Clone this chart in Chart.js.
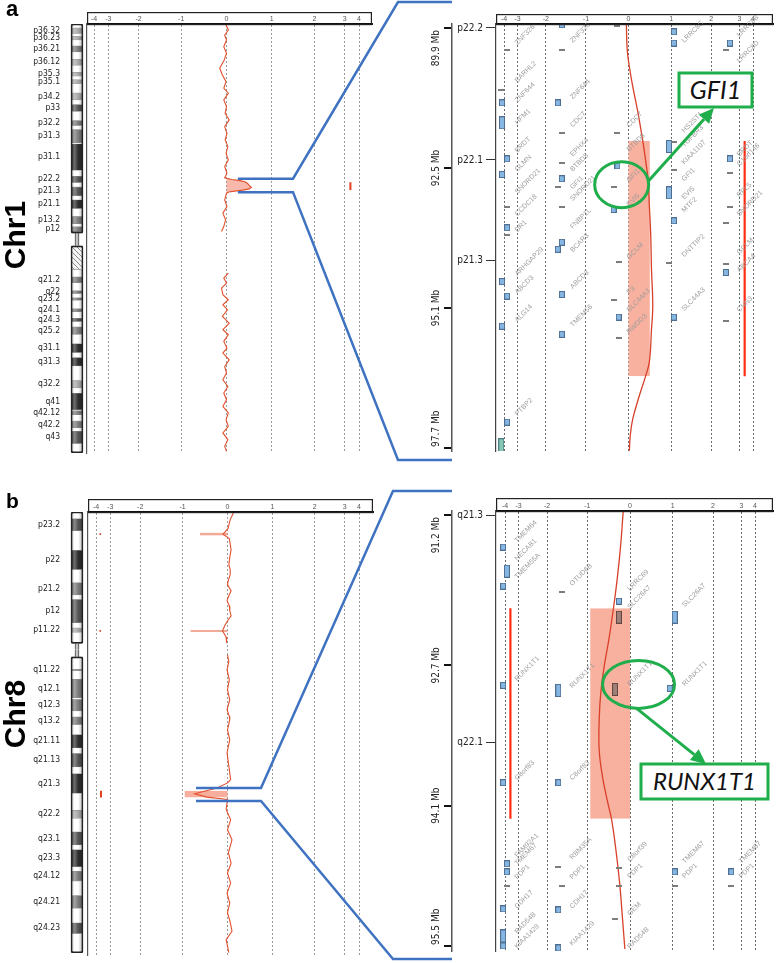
<!DOCTYPE html>
<html><head><meta charset="utf-8"><title>aCGH Chr1 / Chr8</title>
<script src="https://cdn.jsdelivr.net/npm/chart.js@4.4.1/dist/chart.umd.min.js"></script>
<style>
html,body{margin:0;padding:0;background:#fff}
#root{position:relative;width:778px;height:963px;overflow:hidden;background:#fff}
canvas{position:absolute}
#ov{position:absolute;left:0;top:0;pointer-events:none}
</style></head>
<body><div id="root">
<canvas id="idA" width="84" height="460" style="left:0;top:0"></canvas>
<canvas id="mainA" width="300" height="460" style="left:80px;top:0"></canvas>
<canvas id="zoomA" width="378" height="460" style="left:400px;top:0"></canvas>
<canvas id="idB" width="84" height="480" style="left:0;top:480px"></canvas>
<canvas id="mainB" width="300" height="480" style="left:80px;top:480px"></canvas>
<canvas id="zoomB" width="378" height="480" style="left:400px;top:480px"></canvas>
<svg id="ov" width="778" height="963"></svg>
</div>
<script>
// ===================== DATA =====================
const xTicks = [-4,-3,-2,-1,0,1,2,3,4];

// Chromosome 1 cytobands (Mb)
const chr1Length = 249.25;
const chr1BandName  = ['p36.33','p36.32','p36.31','p36.23','p36.22','p36.21','p36.13','p36.12','p36.11','p35.3','p35.2','p35.1','p34.3','p34.2','p34.1','p33','p32.3','p32.2','p32.1','p31.3','p31.2','p31.1','p22.3','p22.2','p22.1','p21.3','p21.2','p21.1','p13.3','p13.2','p13.1','p12','p11.2','p11.1','q11','q12','q21.1','q21.2','q21.3','q22','q23.1','q23.2','q23.3','q24.1','q24.2','q24.3','q25.1','q25.2','q25.3','q31.1','q31.2','q31.3','q32.1','q32.2','q32.3','q41','q42.11','q42.12','q42.13','q42.2','q42.3','q43','q44'];
const chr1BandStart = [0,2.3,5.4,7.2,9.2,12.7,16.2,20.4,23.9,28.0,30.2,32.4,34.6,40.1,44.1,46.8,50.7,56.1,59.0,61.3,68.9,69.7,84.9,88.4,92.0,94.7,99.7,102.2,107.2,111.8,116.1,117.8,120.7,121.5,125.0,128.9,142.6,147.0,150.3,155.0,156.5,159.1,160.5,165.5,167.2,170.9,172.9,176.0,180.3,185.8,190.8,193.8,198.7,207.2,211.5,214.5,224.1,224.6,227.0,230.7,234.7,236.6,243.7];
const chr1BandEnd   = [2.3,5.4,7.2,9.2,12.7,16.2,20.4,23.9,28.0,30.2,32.4,34.6,40.1,44.1,46.8,50.7,56.1,59.0,61.3,68.9,69.7,84.9,88.4,92.0,94.7,99.7,102.2,107.2,111.8,116.1,117.8,120.7,121.5,125.0,128.9,142.6,147.0,150.3,155.0,156.5,159.1,160.5,165.5,167.2,170.9,172.9,176.0,180.3,185.8,190.8,193.8,198.7,207.2,211.5,214.5,224.1,224.6,227.0,230.7,234.7,236.6,243.7,249.25];
const chr1BandStain = ['gneg','gpos25','gneg','gpos25','gneg','gpos50','gneg','gpos25','gneg','gpos25','gneg','gpos25','gneg','gpos25','gneg','gpos75','gneg','gpos50','gneg','gpos50','gneg','gpos100','gneg','gpos75','gneg','gpos75','gneg','gpos100','gneg','gpos50','gneg','gpos50','gneg','acen','acen','gvar','gneg','gpos50','gneg','gpos50','gneg','gpos50','gneg','gpos50','gneg','gpos75','gneg','gpos50','gneg','gpos100','gneg','gpos100','gneg','gpos25','gneg','gpos100','gneg','gpos50','gneg','gpos50','gneg','gpos75','gneg'];

// Chromosome 8 cytobands (Mb)
const chr8Length = 146.36;
const chr8BandName  = ['p23.3','p23.2','p23.1','p22','p21.3','p21.2','p21.1','p12','p11.23','p11.22','p11.21','p11.1','q11.1','q11.21','q11.22','q11.23','q12.1','q12.2','q12.3','q13.1','q13.2','q13.3','q21.11','q21.12','q21.13','q21.2','q21.3','q22.1','q22.2','q22.3','q23.1','q23.2','q23.3','q24.11','q24.12','q24.13','q24.21','q24.22','q24.23','q24.3'];
const chr8BandStart = [0,2.2,6.2,12.7,19.1,23.5,27.5,29.0,36.7,38.5,39.9,43.6,45.6,48.1,52.2,52.6,55.5,61.6,62.2,66.0,68.0,70.5,73.9,78.3,80.1,84.6,86.9,93.3,99.0,101.6,106.2,110.5,112.1,117.7,119.2,122.5,127.3,131.5,136.4,139.9];
const chr8BandEnd   = [2.2,6.2,12.7,19.1,23.5,27.5,29.0,36.7,38.5,39.9,43.6,45.6,48.1,52.2,52.6,55.5,61.6,62.2,66.0,68.0,70.5,73.9,78.3,80.1,84.6,86.9,93.3,99.0,101.6,106.2,110.5,112.1,117.7,119.2,122.5,127.3,131.5,136.4,139.9,146.36];
const chr8BandStain = ['gneg','gpos75','gneg','gpos100','gneg','gpos50','gneg','gpos75','gneg','gpos25','gneg','acen','acen','gneg','gpos75','gneg','gpos50','gneg','gpos50','gneg','gpos50','gneg','gpos100','gneg','gpos75','gneg','gpos100','gneg','gpos25','gneg','gpos75','gneg','gpos100','gneg','gpos50','gneg','gpos50','gneg','gpos75','gneg'];

// Panel a: chr1 log2 ratio profile
const chr1pPos  = [0.6,3.5,6.4,9.3,13.2,17,20.9,25.7,29.6,33.5,37.3,40.2,44.1,48,51.9,55.7,59.6,63.5,67.3,71.2,75.1,79,82.8,86.7,89.4,90.3,91.0,91.8,92.8,94.0,95.0,95.8,96.5,97.1,97.6,98.3,102.2,106.1,109.9,113.8,117.7,120.6];
const chr1pLog2 = [-0.01,0.04,-0.04,0,-0.06,0,-0.05,-0.15,-0.09,-0.01,-0.06,0.04,-0.06,0,-0.03,0.06,-0.04,0.01,-0.03,0.03,-0.01,0.04,-0.04,0.01,-0.04,0.12,0.30,0.42,0.47,0.51,0.55,0.50,0.36,0.18,0.05,0,-0.04,0.01,-0.08,-0.02,-0.06,-0.11];
const chr1qPos  = [144.7,147.6,150.5,153.5,157.3,160.2,163.1,166,169.9,173.8,177.6,180.5,184.4,188.3,191.2,195.1,199,202.8,206.7,210.6,214.4,218.3,222.2,226,229.9,233.8,237.6,241.5,245.4,248.3];
const chr1qLog2 = [0.04,-0.06,0,-0.11,-0.08,0.04,-0.08,0.02,-0.09,0.06,-0.08,0.04,-0.06,0.01,-0.08,0.06,-0.04,0,-0.08,0.03,-0.06,0,-0.08,0.04,-0.01,0.04,-0.08,0.03,-0.04,0];
const chr1GainPos = [92.0, 96.4];
const chr1GainLog2 = [0, 0.5];
const chr1CallLog2 = 3.4;

// Panel a zoom: 1p22.1 region
const zoom1Range = [89.826, 97.756];
const zoom1MbTicks = [89.9, 92.5, 95.1, 97.7];
const zoom1BandText = ['p22.2','p22.1','p21.3'];
const zoom1BandPos  = [89.9, 92.35, 94.22];
const zoom1Pos  = [89.84,90.31,90.62,90.99,91.42,91.97,92.35,92.72,93.21,93.7,94.38,95.07,95.5,96.1,96.37,96.74,97.16,97.48,97.75];
const zoom1Log2 = [-0.05,-0.03,0.02,0.1,0.21,0.33,0.4,0.46,0.49,0.52,0.54,0.57,0.54,0.49,0.4,0.25,0.1,0.04,0.02];
const zoom1Lanes = [-3.0,-1.33,0.02,1.33,3.0];
const zoom1GeneName = ['ZNF326','BARHL2','ZNF644','HFM1','BRDT','GLMN','SNORD21','CCDC18','DR1','ARHGAP29','ABCD3','ALG14','PTBP2',
  'ZNF326','ZNF644','CDC7','EPHX4','BTBD8','GFI1','SNORD21','FNBP1L','BCAR3','ABCD3','TMEM56',
  'CDC7','BTBD8','GFI1','EVI5','GCLM','F3','SLC44A3','RWDD3',
  'LRRC8C','HS2ST1','TGFBR3','KIAA1107','GFI1','EVI5','MTF2','DNTTIP2','SLC44A3',
  'LRRC8B','LRRC8D','BRDT','C1orf146','RPL5','SNORD21','GCLM','ABCA4','CNN3'];
const zoom1GeneLane = [0,0,0,0,0,0,0,0,0,0,0,0,0, 1,1,1,1,1,1,1,1,1,1,1, 2,2,2,2,2,2,2,2, 3,3,3,3,3,3,3,3,3, 4,4,4,4,4,4,4,4,4];
const zoom1GenePos  = [90.22,90.92,91.29,91.70,92.22,92.57,92.99,93.40,93.70,94.51,94.85,95.37,97.11,
  90.18,91.23,91.75,92.29,92.57,92.90,93.12,93.64,94.07,94.75,95.46,
  91.75,92.20,92.77,93.22,94.20,94.85,95.18,95.59,
  90.18,91.85,92.12,92.44,92.75,93.09,93.33,94.16,95.16,
  90.07,90.55,92.29,92.47,93.05,93.40,94.11,94.44,95.18];
const zoom1ProbeLog2 = [-1.6,1.07,1.07,2.66,-4.15,-1.7,-3.77,-0.26,2.66,-4.15,-1.6,-0.35,-3.77,1.07,-1.6,-1.7,2.52,-4.15,-3.77,-1.6,-0.23,1.07,-4.15,-1.6,-3.77];
const zoom1ProbePos  = [89.84,89.97,90.18,90.18,91.29,91.29,92.33,92.46,92.33,92.62,92.70,93.27,93.61,93.48,93.88,94.01,94.44,94.61,94.88,94.85,95.27,95.27,95.44,95.59,97.22];
const zoom1LongLog2 = [-4.15,0.95,0.95];
const zoom1LongPos  = [91.66,92.10,92.96];
const zoom1TealLog2 = [-4.2];
const zoom1TealPos  = [97.66];
const zoom1DashLog2 = [-0.26,-3.77,-1.6,2.52,-4.2,-1.6,-0.26,1.07,-1.6,1.07,2.66,-1.7,-0.35,-3.77,-1.6,2.66,2.52,-3.77,-0.23,0.95,2.52,-0.35,2.52,-0.23];
const zoom1DashPos  = [89.86,90.31,90.31,90.31,91.05,91.85,91.85,92.01,92.40,92.53,92.59,92.85,92.85,93.22,93.22,93.22,93.53,93.74,94.25,94.27,94.29,94.96,95.35,95.66];
const zoom1BoxLog2 = [0, 0.5];
const zoom1BoxPos  = [92.0, 96.37];
const zoom1CallLog2 = 3.38;

// Panel b: chr8 log2 ratio profile
const chr8pPos  = [0.3,2.5,5.5,7.3,8.8,10.5,12.5,15,17.4,19,20.7,22.5,24,26,28,29.3,31,32.6,34.3,36,37.5,39.3,41.3,43.3];
const chr8pLog2 = [0.13,0.06,0.01,-0.1,0.04,0.06,0.08,0.05,0.03,0.06,0.06,0.02,0,0.08,0.02,-0.01,0.04,0.05,0.08,0.0,-0.06,-0.11,-0.03,-0.02];
const chr8qPos  = [47.2,49.4,52.1,55.4,58.7,62,65.3,67.5,68.6,72,75.2,79.6,84,88.4,89.5,91.2,93.1,94.2,95,98.3,101.7,105,108.3,112.6,116,119.3,122.6,125.9,129.2,132.4,135.5,138.5,141.3,145.6];
const chr8qLog2 = [0,0.03,-0.01,0.04,0,0.05,-0.01,0.04,0.05,0,0.05,-0.01,0.03,0.07,0,-0.23,-0.73,-0.46,0,-0.03,0.07,0,0.1,0.02,0.08,0,0.07,-0.01,0.05,0,0.06,0.1,-0.03,0.03];
const chr8SpotPos  = [7.3, 39.3];
const chr8SpotLog2 = [-0.61, -0.82];
const chr8SpotCallLog2 = -3.7;
const chr8LossPos  = [92.1, 94.3];
const chr8LossLog2 = [-0.95, 0];
const chr8CallLog2 = -3.65;

// Panel b zoom: 8q21.3-q22.1 region
const zoom8Range = [91.16, 95.55];
const zoom8MbTicks = [91.2, 92.7, 94.1, 95.5];
const zoom8BandText = ['q21.3','q22.1'];
const zoom8BandPos  = [91.2, 93.47];
const zoom8Pos  = [91.17,91.51,91.84,92.14,92.43,92.7,92.96,93.23,93.55,93.82,94.05,94.24,94.54,94.88,95.2,95.53];
const zoom8Log2 = [-0.16,-0.22,-0.3,-0.39,-0.49,-0.6,-0.68,-0.72,-0.72,-0.64,-0.53,-0.43,-0.33,-0.24,-0.18,-0.12];
const zoom8Lanes = [-3.1,-1.37,0,1.3,3.0];
const zoom8GeneName = ['TMEM64','NECAB1','TMEM55A','RUNX1T1','C8orf83','FAM92A1','TMEM67','PDP1','CDH17','RAD54B','KIAA1429',
  'OTUD6B','RUNX1T1','C8orf83','RBM35A','PDP1','CDH17','KIAA1429',
  'LRRC69','SLC26A7','RUNX1T1','C8orf39','PDP1','GEM','RAD54B',
  'SLC26A7','RUNX1T1','TMEM67','PDP1',
  'TMEM67','PDP1'];
const zoom8GeneLane = [0,0,0,0,0,0,0,0,0,0,0, 1,1,1,1,1,1,1, 2,2,2,2,2,2,2, 3,3,3,3, 4,4];
const zoom8GenePos  = [91.48,91.66,91.84,92.86,93.85,94.62,94.70,94.84,95.13,95.38,95.53,
  91.91,92.93,93.85,94.64,94.84,95.13,95.50,
  91.96,92.14,92.91,94.66,94.83,95.20,95.53,
  92.12,92.91,94.68,94.83,
  94.68,94.83];
const zoom8ProbeLog2 = [-4.14,-4.14,-0.26,-4.14,0.93,-4.14,-1.72,-3.86,-3.86,1.05,2.64,-4.14,-1.72,-4.14,-1.72];
const zoom8ProbePos  = [91.52,91.91,92.06,92.90,92.93,93.87,93.87,94.68,94.76,94.76,94.76,95.13,95.14,95.50,95.52];
const zoom8LongLog2 = [-3.86,1.05,-1.72,-4.14];
const zoom8LongPos  = [91.76,92.22,92.95,95.40];
const zoom8LostLog2 = [-0.26,-0.35];
const zoom8LostPos  = [92.22,92.94];
const zoom8DashLog2 = [-1.62,-1.72,-0.26,-3.86,-1.62,-0.26,1.05,2.64,-0.35];
const zoom8DashPos  = [91.97,94.71,94.72,94.90,94.90,94.90,94.90,94.90,95.23];
const zoom8BoxLog2 = [-0.93, 0];
const zoom8BoxPos  = [92.13, 94.23];
const zoom8CallLog2 = -3.6;

// ===================== STYLE / HELPERS =====================
const FONT = '"Liberation Sans", Arial, sans-serif';
const NARROW = '"Liberation Sans Narrow", "Arial Narrow", "DejaVu Sans Condensed", sans-serif';
const TRACE = '#e2502c';
const WARP_V = [-4,-3,-2,-1,0,1,2,3,4];
const WARP_U = [0,0.054,0.168,0.329,0.5,0.671,0.832,0.946,1];

class WarpScale extends Chart.LinearScale {
  _pads(){ const o = this.options; const l = (o.warpPadL != null) ? o.warpPadL : 0; const r = (o.warpPadR != null) ? o.warpPadR : 0; return [this.left + l, this.right - r]; }
  getPixelForValue(v){
    const n = WARP_V.length; let i = 0;
    if (v >= WARP_V[n-1]) i = n-2; else { while (i < n-2 && v > WARP_V[i+1]) i++; }
    const t = (v - WARP_V[i]) / (WARP_V[i+1] - WARP_V[i]);
    const u = WARP_U[i] + t * (WARP_U[i+1] - WARP_U[i]);
    const [a, b] = this._pads();
    return a + u * (b - a);
  }
  getValueForPixel(p){
    const [a, b] = this._pads(); const u = (p - a) / (b - a);
    const n = WARP_U.length; let i = 0;
    if (u >= WARP_U[n-1]) i = n-2; else { while (i < n-2 && u > WARP_U[i+1]) i++; }
    return WARP_V[i] + (u - WARP_U[i]) / (WARP_U[i+1] - WARP_U[i]) * (WARP_V[i+1] - WARP_V[i]);
  }
}
WarpScale.id = 'warp';
WarpScale.defaults = Chart.LinearScale.defaults;
Chart.register(WarpScale);

const xy = (vals, pos) => pos.map((p, i) => ({x: vals[i], y: p}));

function shade(hex, f){
  const n = parseInt(hex.slice(1), 16);
  const c = [n >> 16 & 255, n >> 8 & 255, n & 255].map(v => Math.max(0, Math.min(255, Math.round(f > 1 ? v + (255 - v) * (f - 1) : v * f))));
  return 'rgb(' + c.join(',') + ')';
}
const STAIN = {gneg:'#ffffff', gpos25:'#a9a9a9', gpos50:'#7c7c7c', gpos75:'#555555', gpos100:'#2f2f2f', acen:'#bdbdbd'};
let hatchCache = null;
function hatch(ctx){
  if (hatchCache) return hatchCache;
  const p = document.createElement('canvas'); p.width = 5; p.height = 5;
  const g = p.getContext('2d'); g.fillStyle = '#f3f3f3'; g.fillRect(0,0,5,5);
  g.strokeStyle = '#8f8f8f'; g.lineWidth = 1; g.beginPath(); g.moveTo(-1,-1); g.lineTo(6,6); g.stroke();
  hatchCache = ctx.createPattern(p, 'repeat'); return hatchCache;
}
function bandFill(chart, stain){
  if (stain === 'gvar') return hatch(chart.ctx);
  const base = STAIN[stain] || '#ffffff';
  const area = chart.chartArea; if (!area) return base;
  const cx = (area.left + area.right) / 2;
  const g = chart.ctx.createLinearGradient(cx - 6, 0, cx + 6, 0);
  g.addColorStop(0, shade(base, 0.78)); g.addColorStop(0.3, shade(base, 1.3));
  g.addColorStop(0.6, base); g.addColorStop(1, shade(base, 0.7));
  return g;
}
function glyph(w, h, fill, stroke){
  const c = document.createElement('canvas'); c.width = w; c.height = h;
  const g = c.getContext('2d'); g.fillStyle = fill; g.fillRect(0,0,w,h);
  g.strokeStyle = stroke; g.lineWidth = 1; g.strokeRect(0.5,0.5,w-1,h-1); return c;
}
const G_BLUE = glyph(6, 7, '#86b6e2', '#4f6f92');
const G_LONG = glyph(6, 13, '#86b6e2', '#4f6f92');
const G_TEAL = glyph(6, 15, '#86c8b4', '#4d7f86');
const G_LOST = glyph(6, 13, '#a07f78', '#5e4642');
const G_DASH = glyph(6, 2, '#7c7c7c', '#7c7c7c');

const headerBox = { id:'headerBox', afterDraw(chart){
  const s = chart.scales.x, c = chart.ctx; c.save(); c.strokeStyle = '#222'; c.lineWidth = 1.2;
  c.strokeRect(s.left + 0.6, s.top + 0.6, s.width - 1.2, s.height); c.restore(); } };
const geneText = { id:'geneText', afterDatasetsDraw(chart){
  chart.data.datasets.forEach((ds, i) => {
    if (!ds.geneNames) return;
    const meta = chart.getDatasetMeta(i), c = chart.ctx;
    c.save(); c.font = '7px ' + FONT; c.fillStyle = '#9d9d9d'; c.textAlign = 'left'; c.textBaseline = 'alphabetic';
    meta.data.forEach((pt, j) => { c.save(); c.translate(pt.x, pt.y); c.rotate(-Math.PI/4); c.fillText(ds.geneNames[j], 0, 0); c.restore(); });
    c.restore();
  }); } };
const mbLabels = { id:'mbLabels', afterDraw(chart){
  const s = chart.scales.yMb; if (!s) return; const c = chart.ctx;
  c.save(); c.font = '10px ' + NARROW; c.fillStyle = '#222'; c.textBaseline = 'middle';
  const n = s.ticks.length;
  s.ticks.forEach((t, i) => {
    const y = s.getPixelForValue(t.value); c.save();
    c.translate(s.left + 36, y + (i === 0 ? 2 : (i === n-1 ? -1 : 0))); c.rotate(-Math.PI/2);
    c.textAlign = i === 0 ? 'right' : (i === n-1 ? 'left' : 'center');
    c.fillText(t.value.toFixed(1) + ' Mb', 0, 0); c.restore();
  }); c.restore(); } };

const BASE = { responsive:false, animation:false, events:[], devicePixelRatio:1 };
const NOPLUG = { legend:{display:false}, tooltip:{enabled:false} };

function warpAxis(padL, padR, headerH, gridColor){
  return { type:'warp', position:'top', min:-4.6, max:4.9, warpPadL:padL, warpPadR:padR,
    afterBuildTicks: s => { s.ticks = xTicks.map(v => ({value:v})); },
    afterFit: s => { s.height = headerH; },
    ticks:{ autoSkip:false, maxRotation:0, minRotation:0, padding:1, color:'#555', font:{size:7, family:FONT}, callback: v => String(v) },
    grid:{ color:gridColor, lineWidth:1, drawTicks:false },
    border:{ display:true, color:'#111', width:2, dash:[2,2] } };
}

function ideogram(id, names, starts, ends, stains, len, padTop, padBottom){
  const labelIdx = stains.map((s, i) => s.startsWith('gpos') ? i : -1).filter(i => i >= 0);
  const acen = stains.map((s, i) => s === 'acen' ? i : -1).filter(i => i >= 0);
  const cenStart = starts[acen[0]], cenEnd = ends[acen[acen.length-1]];
  const ds = names.map((n, i) => {
    const st = stains[i], isAcen = st === 'acen';
    return { label:n, data:[[starts[i], ends[i]]], grouped:false, barThickness: isAcen ? 4 : 12,
      backgroundColor: c => bandFill(c.chart, st),
      borderColor: isAcen ? '#444' : '#8a8a8a', borderWidth: isAcen ? {left:1, right:1, top:0, bottom:0} : {top:0.5, bottom:0.5, left:0, right:0},
      borderSkipped:false, order: isAcen ? 1 : 2 };
  });
  [[0, cenStart], [cenEnd, len]].forEach(r => ds.push({ label:'arm', data:[r], grouped:false, barThickness:12,
    backgroundColor:'rgba(0,0,0,0)', borderColor:'#222', borderWidth:1, borderSkipped:false, borderRadius:2, order:0 }));
  return new Chart(document.getElementById(id), { type:'bar', data:{ labels:['chr'], datasets:ds },
    options:{ ...BASE, layout:{padding:{top:padTop, bottom:padBottom, left:0, right:0}}, plugins:NOPLUG,
      scales:{ x:{display:false},
        y:{ type:'linear', reverse:true, min:0, max:len,
          afterBuildTicks: s => { s.ticks = labelIdx.map(i => ({value:(starts[i] + ends[i]) / 2})); },
          ticks:{ autoSkip:false, padding:2, color:'#222', font:{size:8.5, family:NARROW}, callback:(v, k) => names[labelIdx[k]] },
          grid:{display:false}, border:{display:false}, afterFit: s => { s.width = 70; } } } } });
}

function mainChart(id, pad, headerH, warpL, warpR, len, datasets){
  return new Chart(document.getElementById(id), { type:'line', data:{datasets},
    options:{ ...BASE, indexAxis:'y', layout:{padding:pad}, plugins:NOPLUG,
      scales:{ x: warpAxis(warpL, warpR, headerH, '#9a9a9a'),
        y:{ type:'linear', reverse:true, min:0, max:len, ticks:{display:false}, grid:{display:false, drawTicks:false},
            border:{display:true, color:'#555', width:1.2}, afterFit: s => { s.width = 0; } } } },
    plugins:[headerBox] });
}

function zoomChart(id, pad, headerH, warpL, warpR, range, mbTicks, bandText, bandPos, datasets){
  return new Chart(document.getElementById(id), { type:'line', data:{datasets},
    options:{ ...BASE, indexAxis:'y', layout:{padding:pad}, plugins:NOPLUG,
      scales:{ x: warpAxis(warpL, warpR, headerH, '#6a6a6a'),
        y:{ type:'linear', reverse:true, min:range[0], max:range[1], display:false },
        yBand:{ type:'linear', position:'left', weight:0, reverse:true, min:range[0], max:range[1],
          afterBuildTicks: s => { s.ticks = bandPos.map(v => ({value:v})); },
          ticks:{ autoSkip:false, padding:3, color:'#222', font:{size:10, family:NARROW}, callback:(v, k) => bandText[k] },
          grid:{ drawOnChartArea:false, drawTicks:true, tickLength:10, color:'#333', lineWidth:1 },
          border:{ display:true, color:'#444', width:1.2 }, afterFit: s => { s.width = 44; } },
        yMb:{ type:'linear', position:'left', weight:1, reverse:true, min:range[0], max:range[1],
          afterBuildTicks: s => { s.ticks = mbTicks.map(v => ({value:v})); },
          ticks:{ display:false },
          grid:{ drawOnChartArea:false, drawTicks:true, tickLength:8, color:'#111', lineWidth:2 },
          border:{ display:true, color:'#555', width:1.5 }, afterFit: s => { s.width = 52; } } } },
    plugins:[headerBox, geneText, mbLabels] });
}

const line = (data, color, width, order, extra) => Object.assign({ data, borderColor:color, borderWidth:width, pointRadius:0, fill:false, order }, extra || {});
const boxSets = (lr, pos, color, order) => [
  { data:[{x:lr[0], y:pos[0]}, {x:lr[0], y:pos[1]}], borderColor:'rgba(0,0,0,0)', borderWidth:0, pointRadius:0, backgroundColor:color, fill:'+1', order },
  { data:[{x:lr[1], y:pos[0]}, {x:lr[1], y:pos[1]}], borderColor:'rgba(0,0,0,0)', borderWidth:0, pointRadius:0, fill:false, order } ];
const glyphSet = (lr, pos, img) => ({ data:xy(lr, pos), showLine:false, pointStyle:img, pointRadius:3, order:1 });
const geneSet = (names, lanes, laneVals, pos) => ({ data: pos.map((p, i) => ({x: laneVals[lanes[i]], y: p})), geneNames:names, showLine:false, pointRadius:0, order:0 });

// ===================== CHARTS =====================
ideogram('idA', chr1BandName, chr1BandStart, chr1BandEnd, chr1BandStain, chr1Length, 24, 7);
ideogram('idB', chr8BandName, chr8BandStart, chr8BandEnd, chr8BandStain, chr8Length, 32, 5);

const spikeIdx = chr1pPos.map((p, i) => (p >= 89.3 && p <= 98.4) ? i : -1).filter(i => i >= 0);
const mainA = mainChart('mainA', {left:7, right:8, top:12, bottom:7}, 12, 7, 13, chr1Length, [
  line(spikeIdx.map(i => ({x:chr1pLog2[i], y:chr1pPos[i]})), 'rgba(0,0,0,0)', 0, 4, { backgroundColor:'rgba(242,128,104,0.55)', fill:{value:0} }),
  line(xy(chr1pLog2, chr1pPos), TRACE, 1.1, 2),
  line(xy(chr1qLog2, chr1qPos), TRACE, 1.1, 2),
  line([{x:chr1CallLog2, y:chr1GainPos[0]}, {x:chr1CallLog2, y:chr1GainPos[1]}], '#e2401f', 2, 1)
]);

const mainB = mainChart('mainB', {left:8, right:7, top:19, bottom:5}, 13, 8, 14, chr8Length, [
  ...boxSets(chr8LossLog2, chr8LossPos, 'rgba(246,160,140,0.85)', 5),
  line([{x:chr8SpotLog2[0], y:chr8SpotPos[0]}, {x:0, y:chr8SpotPos[0]}], 'rgba(240,150,128,0.8)', 2.5, 3),
  line([{x:chr8SpotLog2[1], y:chr8SpotPos[1]}, {x:0, y:chr8SpotPos[1]}], 'rgba(240,150,128,0.8)', 2, 3),
  line(xy(chr8pLog2, chr8pPos), TRACE, 1.1, 2),
  line(xy(chr8qLog2, chr8qPos), TRACE, 1.1, 2),
  { data: chr8SpotPos.map(p => ({x:chr8SpotCallLog2, y:p})), showLine:false, pointStyle:'rect', pointRadius:1.2, backgroundColor:'#d8482a', borderWidth:0, order:1 },
  line([{x:chr8CallLog2, y:chr8LossPos[0]}, {x:chr8CallLog2, y:chr8LossPos[1]}], '#e2401f', 2, 1)
]);

const zoomA = zoomChart('zoomA', {left:0, right:3, top:14, bottom:8}, 10, 8, 20, zoom1Range, zoom1MbTicks, zoom1BandText, zoom1BandPos, [
  ...boxSets(zoom1BoxLog2, zoom1BoxPos, '#f8b09f', 5),
  line([{x:zoom1CallLog2, y:zoom1BoxPos[0]}, {x:zoom1CallLog2, y:zoom1BoxPos[1]}], '#ff2d12', 2.2, 1),
  line(xy(zoom1Log2, zoom1Pos), '#d8402a', 1.3, 2, { tension:0.4 }),
  glyphSet(zoom1DashLog2, zoom1DashPos, G_DASH),
  glyphSet(zoom1ProbeLog2, zoom1ProbePos, G_BLUE),
  glyphSet(zoom1LongLog2, zoom1LongPos, G_LONG),
  glyphSet(zoom1TealLog2, zoom1TealPos, G_TEAL),
  geneSet(zoom1GeneName, zoom1GeneLane, zoom1Lanes, zoom1GenePos)
]);

const zoomB = zoomChart('zoomB', {left:0, right:3, top:18, bottom:5}, 13, 9, 18, zoom8Range, zoom8MbTicks, zoom8BandText, zoom8BandPos, [
  ...boxSets(zoom8BoxLog2, zoom8BoxPos, '#f8b09f', 5),
  line([{x:zoom8CallLog2, y:zoom8BoxPos[0]}, {x:zoom8CallLog2, y:zoom8BoxPos[1]}], '#ff2d12', 2.2, 1),
  line(xy(zoom8Log2, zoom8Pos), '#d8402a', 1.3, 2, { tension:0.4 }),
  glyphSet(zoom8DashLog2, zoom8DashPos, G_DASH),
  glyphSet(zoom8ProbeLog2, zoom8ProbePos, G_BLUE),
  glyphSet(zoom8LongLog2, zoom8LongPos, G_LONG),
  glyphSet(zoom8LostLog2, zoom8LostPos, G_LOST),
  geneSet(zoom8GeneName, zoom8GeneLane, zoom8Lanes, zoom8GenePos)
]);

// ===================== OVERLAY (labels, connectors, call-outs) =====================
const NS = 'http://www.w3.org/2000/svg', ov = document.getElementById('ov');
function el(tag, attrs, text){ const e = document.createElementNS(NS, tag); for (const k in attrs) e.setAttribute(k, attrs[k]); if (text != null) e.textContent = text; ov.appendChild(e); return e; }
function arrow(x1, y1, x2, y2, color){
  const a = Math.atan2(y2 - y1, x2 - x1), L = 15, W = 7;
  const bx = x2 - L * Math.cos(a), by = y2 - L * Math.sin(a);
  el('line', {x1, y1, x2:bx, y2:by, stroke:color, 'stroke-width':3});
  el('polygon', {points:`${x2},${y2} ${bx + W*Math.sin(a)},${by - W*Math.cos(a)} ${bx - W*Math.sin(a)},${by + W*Math.cos(a)}`, fill:color});
}
const BLUE = '#3f73c1', GREEN = '#1fae4b';
// panel letters and chromosome names
el('text', {x:6, y:16, 'font-family':FONT, 'font-size':22, 'font-weight':'bold'}, 'a');
el('text', {x:6, y:508, 'font-family':FONT, 'font-size':21, 'font-weight':'bold'}, 'b');
el('text', {transform:'translate(25,235) rotate(-90)', 'text-anchor':'middle', 'font-family':FONT, 'font-size':30, 'font-weight':'bold'}, 'Chr1');
el('text', {transform:'translate(25,714) rotate(-90)', 'text-anchor':'middle', 'font-family':FONT, 'font-size':30, 'font-weight':'bold'}, 'Chr8');

// connectors panel a
{
  const y1 = mainA.scales.y.getPixelForValue(zoom1MbTicks[0]), y2 = mainA.scales.y.getPixelForValue(zoom1MbTicks[3]);
  const x0 = mainA.scales.x.getPixelForValue(0.25) + 80;
  el('polyline', {points:`${x0},${y1} 293,${y1} 398,2 452,2`, fill:'none', stroke:BLUE, 'stroke-width':2.5});
  el('polyline', {points:`${x0},${y2} 293,${y2} 398,460 452,460`, fill:'none', stroke:BLUE, 'stroke-width':2.5});
}
// connectors panel b
{
  const y1 = mainB.scales.y.getPixelForValue(zoom8MbTicks[0]) + 480, y2 = mainB.scales.y.getPixelForValue(zoom8MbTicks[3]) + 480;
  const x0 = mainB.scales.x.getPixelForValue(-0.7) + 80;
  el('polyline', {points:`${x0},${y1} 261,${y1} 393,491 452,491`, fill:'none', stroke:BLUE, 'stroke-width':2.5});
  el('polyline', {points:`${x0},${y2} 261,${y2} 393,959 452,959`, fill:'none', stroke:BLUE, 'stroke-width':2.5});
}
// GFI1 call-out
{
  const cx = zoomA.scales.x.getPixelForValue(-0.16) + 400, cy = zoomA.scales.y.getPixelForValue(92.81);
  el('ellipse', {cx, cy, rx:27, ry:23, fill:'none', stroke:GREEN, 'stroke-width':3});
  arrow(cx + 27, cy - 4, 714, 108, GREEN);
  el('rect', {x:679, y:73, width:73, height:34, fill:'#fff', stroke:GREEN, 'stroke-width':3});
  el('text', {x:715.5, y:99, 'text-anchor':'middle', 'font-family':'Lato, "Open Sans", sans-serif', 'font-style':'italic', 'font-size':25, fill:'#111'}, 'GFI1');
}
// RUNX1T1 call-out
{
  const cx = zoomB.scales.x.getPixelForValue(0.2) + 400, cy = zoomB.scales.y.getPixelForValue(92.89) + 480;
  el('ellipse', {cx, cy, rx:36, ry:24, fill:'none', stroke:GREEN, 'stroke-width':3});
  arrow(cx - 2, cy + 24, 706, 764, GREEN);
  el('rect', {x:641, y:764, width:127, height:35, fill:'#fff', stroke:GREEN, 'stroke-width':3});
  el('text', {x:704.5, y:790, 'text-anchor':'middle', 'font-family':'Lato, "Open Sans", sans-serif', 'font-style':'italic', 'font-size':24, fill:'#111'}, 'RUNX1T1');
}
</script></body></html>
